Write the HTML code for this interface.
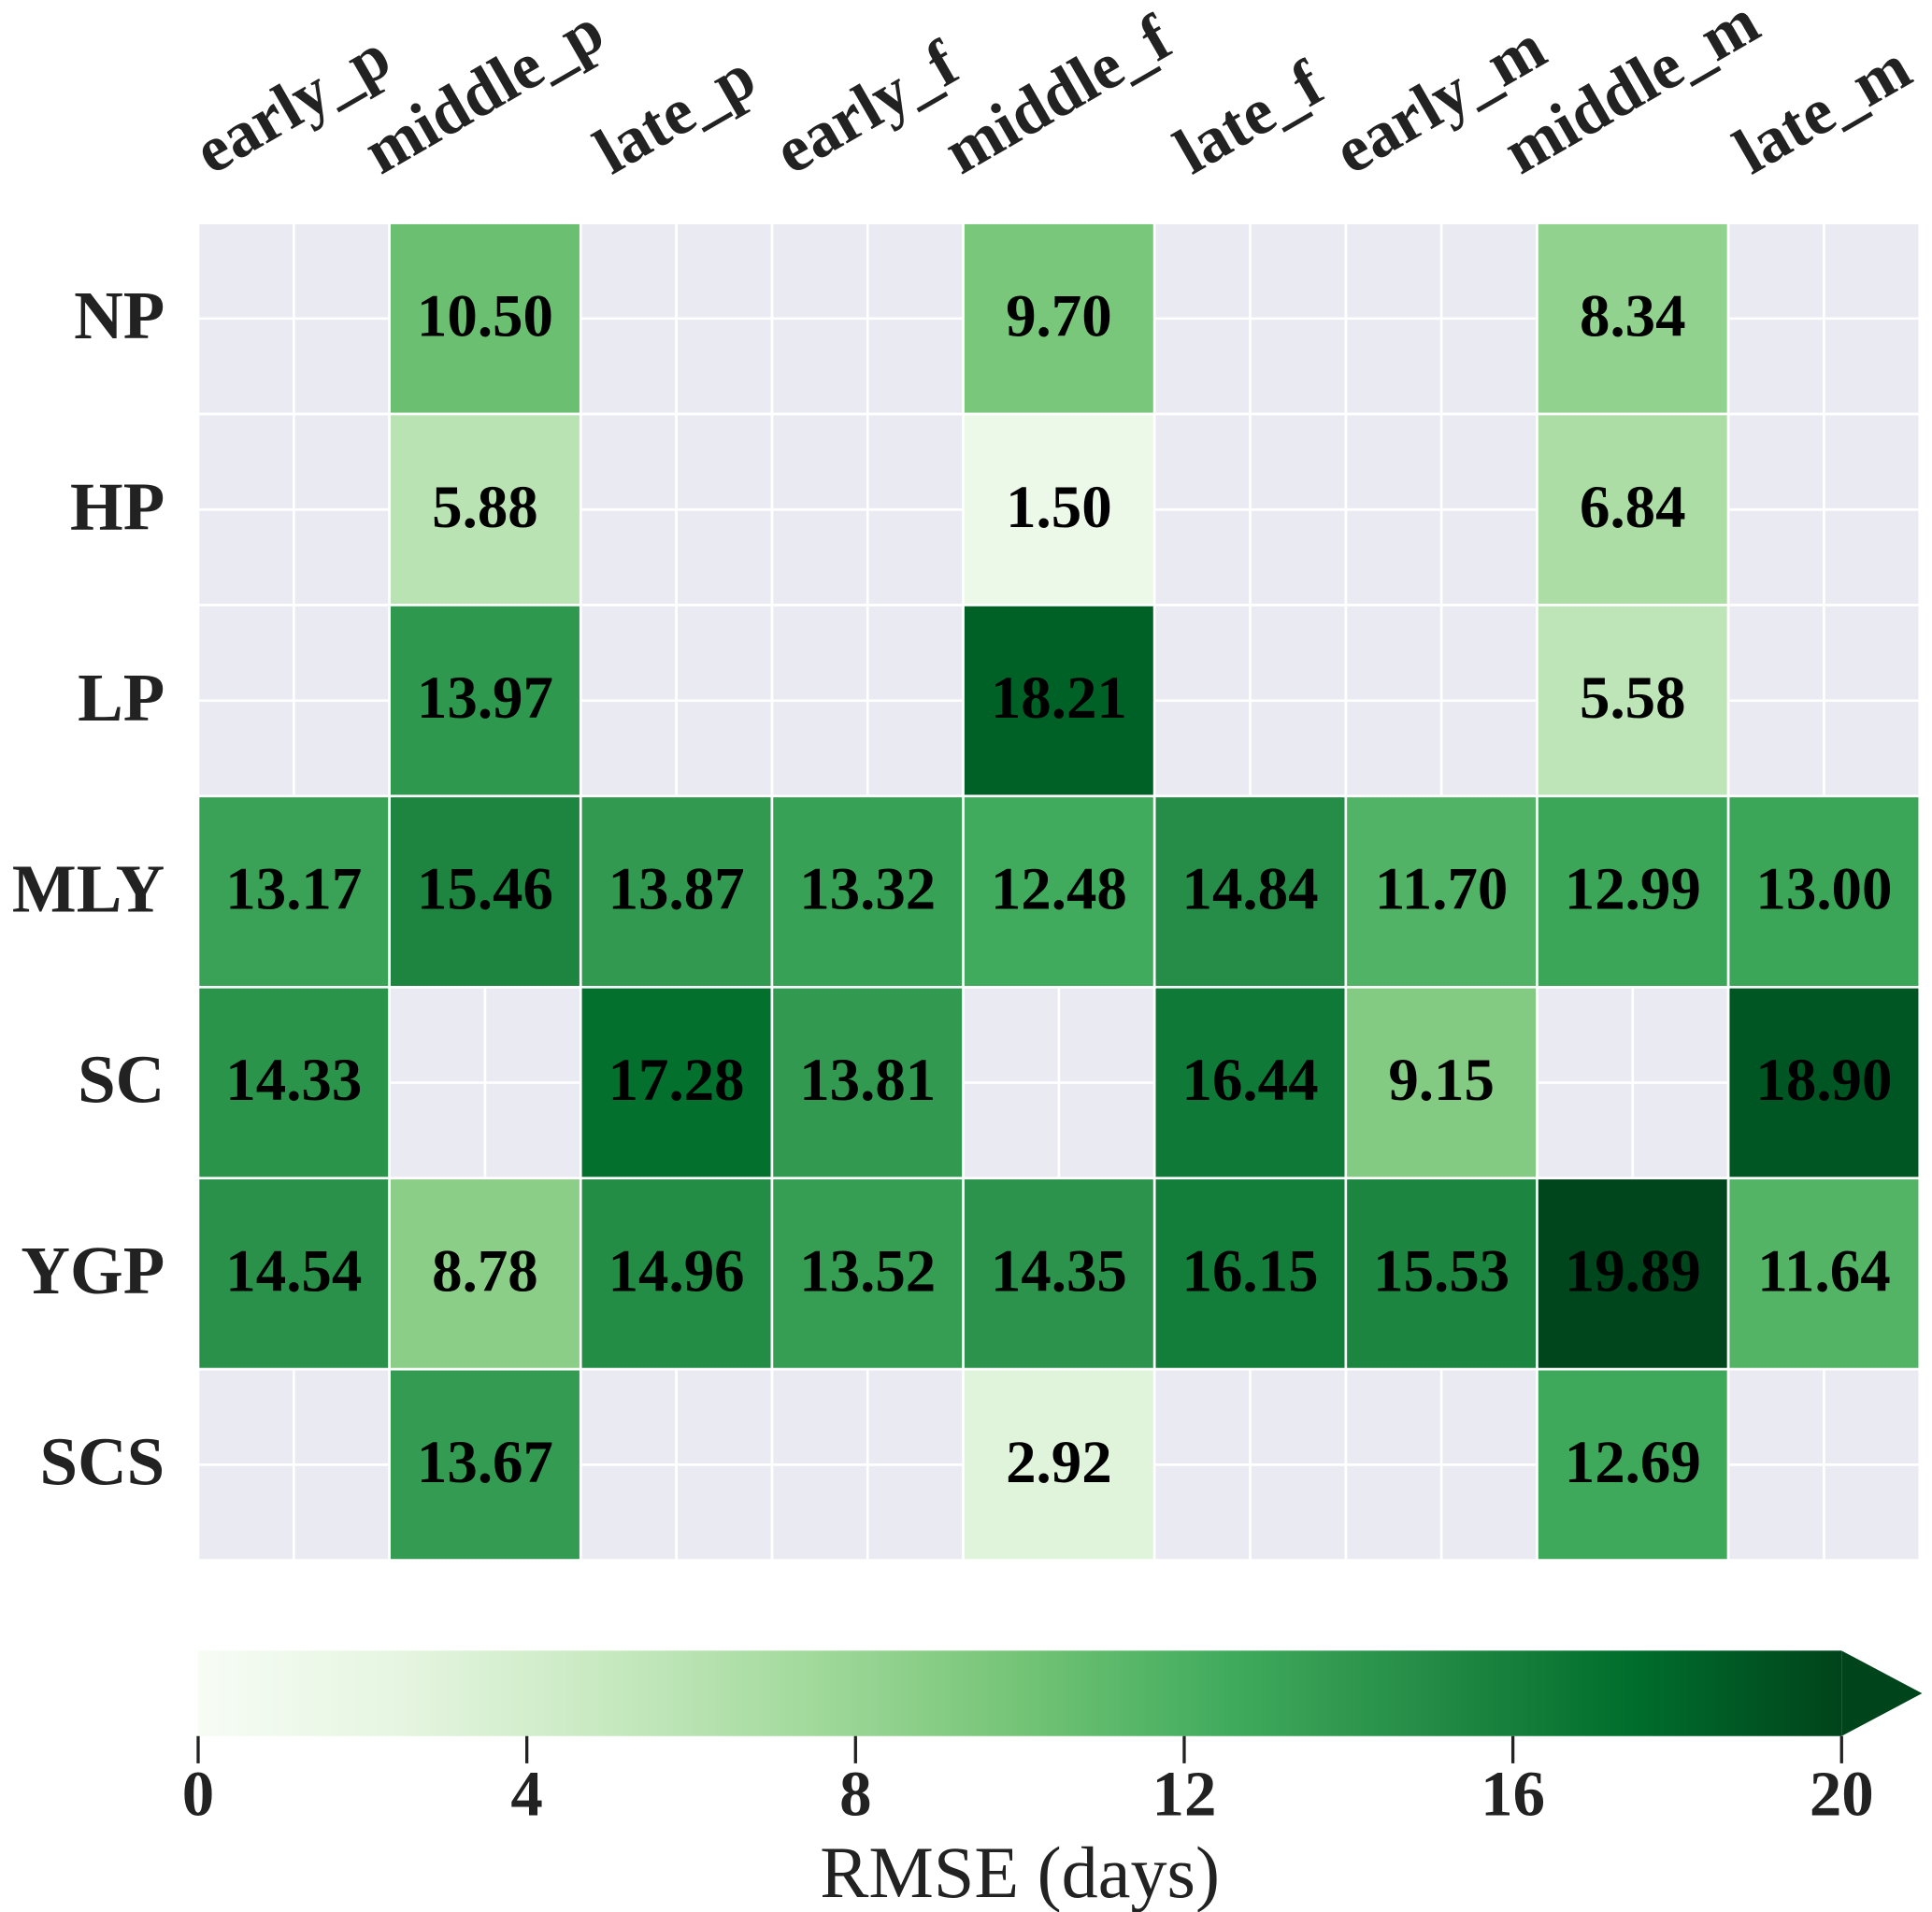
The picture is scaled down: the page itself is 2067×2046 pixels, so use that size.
<!DOCTYPE html>
<html><head><meta charset="utf-8"><style>
html,body{margin:0;padding:0;background:#fff;}
svg{display:block;}
text{font-family:"Liberation Serif",serif;}
</style></head><body>
<svg id="chart" width="2067" height="2046" viewBox="0 0 1560 1544" xmlns="http://www.w3.org/2000/svg">
<defs><linearGradient id="cbgrad" x1="0" x2="1" y1="0" y2="0"></linearGradient></defs>
<g id="cells"></g>
<g id="xlabels"></g>
<g id="ylabels"></g>
<g id="cbar"></g>
</svg>
<script>
const columns = ["early_p","middle_p","late_p","early_f","middle_f","late_f","early_m","middle_m","late_m"];
const rows = ["NP","HP","LP","MLY","SC","YGP","SCS"];
const valuesNP  = [null,10.50,null,null,9.70,null,null,8.34,null];
const valuesHP  = [null,5.88,null,null,1.50,null,null,6.84,null];
const valuesLP  = [null,13.97,null,null,18.21,null,null,5.58,null];
const valuesMLY = [13.17,15.46,13.87,13.32,12.48,14.84,11.70,12.99,13.00];
const valuesSC  = [14.33,null,17.28,13.81,null,16.44,9.15,null,18.90];
const valuesYGP = [14.54,8.78,14.96,13.52,14.35,16.15,15.53,19.89,11.64];
const valuesSCS = [null,13.67,null,null,2.92,null,null,12.69,null];
const colorbarTicks = [0,4,8,12,16,20];
const vmin = 0, vmax = 20;

const matrix = [valuesNP,valuesHP,valuesLP,valuesMLY,valuesSC,valuesYGP,valuesSCS];
const NS = "http://www.w3.org/2000/svg";
const L = 160, R = 1550, T = 180, B = 1260;
const cw = (R-L)/columns.length, ch = (B-T)/rows.length;
const xPos = i => L + i*cw;
const yPos = j => T + j*ch;
const greens = ["#f7fcf5","#e5f5e0","#c7e9c0","#a1d99b","#74c476","#41ab5d","#238b45","#006d2c","#00441b"];
function hex(h){return [1,3,5].map(k=>parseInt(h.substr(k,2),16));}
function cmap(v){
  let t = Math.max(0,Math.min(1,(v-vmin)/(vmax-vmin)))*(greens.length-1);
  let i = Math.min(Math.floor(t),greens.length-2), f=t-i;
  const a=hex(greens[i]), b=hex(greens[i+1]);
  return "rgb("+a.map((x,k)=>Math.round(x+(b[k]-x)*f)).join(",")+")";
}
function mk(tag, attrs, parent){
  const e=document.createElementNS(NS,tag);
  for(const k in attrs) e.setAttribute(k,attrs[k]);
  parent.appendChild(e); return e;
}
const cells = document.getElementById('cells');
let bg = mk('rect',{x:L,y:T,width:R-L,height:B-T,fill:'#eaeaf2'},cells);


columns.forEach((c,i)=>{
  const gl = mk('line',{x1:xPos(i)+cw/2,x2:xPos(i)+cw/2,y1:T,y2:B,stroke:'#fff','stroke-width':2},cells);
  
  
});
rows.forEach((r,j)=>{
  const gl = mk('line',{y1:yPos(j)+ch/2,y2:yPos(j)+ch/2,x1:L,x2:R,stroke:'#fff','stroke-width':2},cells);
  
  
});
matrix.forEach((row,j)=>{
  row.forEach((v,i)=>{
    if(v===null){
      const ec = mk('rect',{x:xPos(i),y:yPos(j),width:cw,height:ch,fill:'none',stroke:'#fff','stroke-width':2},cells);
      
      
      return;
    }
    const r = mk('rect',{x:xPos(i),y:yPos(j),width:cw,height:ch,fill:cmap(v),stroke:'#fff','stroke-width':2},cells);
    
    
    const t = mk('text',{x:xPos(i)+cw/2,y:yPos(j)+ch/2+14,'text-anchor':'middle','font-size':49,'font-weight':'bold',fill:'#000'},cells);
    t.textContent = v.toFixed(2);
    
    
  });
});
const yl = document.getElementById('ylabels');
rows.forEach((r,j)=>{
  const t = mk('text',{x:133,y:yPos(j)+ch/2+16,'text-anchor':'end','font-size':55,'font-weight':'bold',fill:'#222'},yl);
  t.textContent = r;
  
  
});
const xl = document.getElementById('xlabels');
columns.forEach((c,i)=>{
  const cx = xPos(i)+cw/2;
  const t = mk('text',{x:0,y:0,'text-anchor':'middle','font-size':53,'font-weight':'bold',fill:'#222'},xl);
  t.textContent = c;
  
  
  const len = t.getComputedTextLength();
  const h = 38;
  const bh = len*0.5 + h*0.866;
  const cy = 145 - bh/2;
  t.setAttribute('transform','translate('+cx+','+cy+') rotate(-30) translate(0,'+(h/2-4)+')');
});
const grad = document.getElementById('cbgrad');
greens.forEach((g,k)=>{ mk('stop',{offset:(k/(greens.length-1)*100)+'%','stop-color':g},grad); });
const cb = document.getElementById('cbar');
const cbL=160, cbR=1487, cbT=1333, cbB=1402, tip=1552;
const cbx = v => cbL + (v-vmin)/(vmax-vmin)*(cbR-cbL);
const bar = mk('rect',{x:cbL,y:cbT,width:cbR-cbL,height:cbB-cbT,fill:'url(#cbgrad)'},cb);


const arrow = mk('polygon',{points:cbR+','+cbT+' '+tip+','+((cbT+cbB)/2)+' '+cbR+','+cbB,fill:'#00441b'},cb);


colorbarTicks.forEach(v=>{
  const tk = mk('line',{x1:cbx(v),x2:cbx(v),y1:cbB,y2:cbB+22,stroke:'#222','stroke-width':2.5},cb);
  
  
  const t = mk('text',{x:cbx(v),y:1466,'text-anchor':'middle','font-size':52,'font-weight':'bold',fill:'#222'},cb);
  t.textContent = v;
  
  
});
const ttl = mk('text',{x:(cbL+cbR)/2,y:1532,'text-anchor':'middle','font-size':59,fill:'#222'},cb);
ttl.textContent = 'RMSE (days)';


</script>
</body></html>
